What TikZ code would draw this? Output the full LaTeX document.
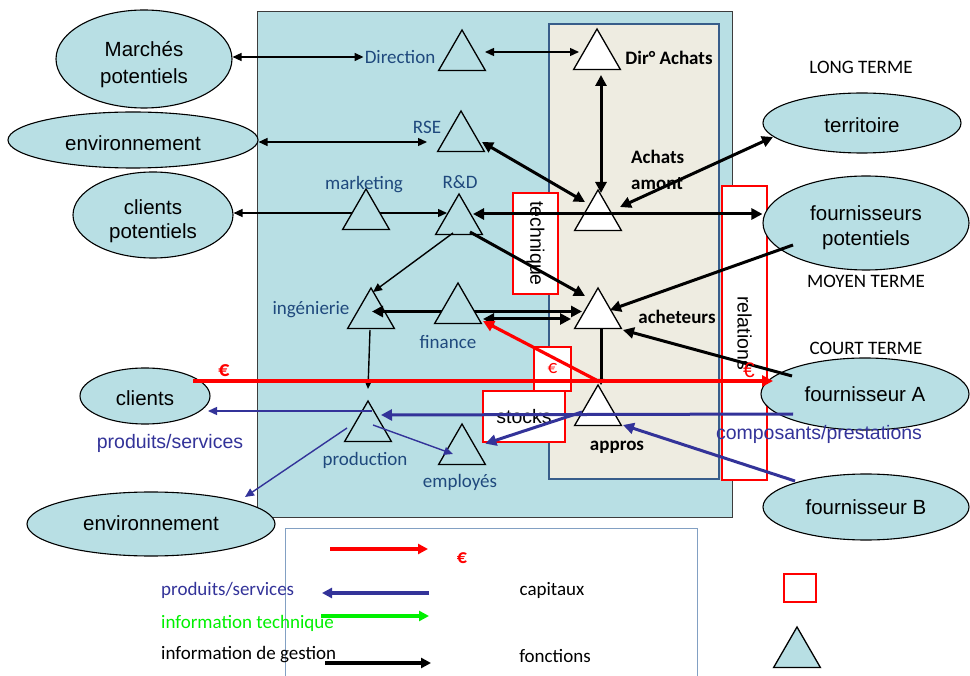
\documentclass[tikz,border=0pt]{standalone}
\usepackage{fontspec}
\setmainfont{Carlito}
\newfontfamily\arialf{Liberation Sans}
\usetikzlibrary{arrows.meta,shapes.geometric,calc}

\definecolor{cyanfill}{RGB}{184,223,228}
\definecolor{beige}{RGB}{238,236,225}
\definecolor{beigeedge}{RGB}{56,93,138}
\definecolor{fnblue}{RGB}{31,73,125}
\definecolor{flowblue}{RGB}{51,51,153}
\definecolor{flowgreen}{RGB}{0,240,0}
\definecolor{legendedge}{RGB}{130,160,195}
\definecolor{boxedge}{RGB}{60,60,60}

% text set a little below the middle of its oval, the oval keeping its size
\newcommand{\lowtext}[2]{\raisebox{-#1}[\height][\depth]{\begin{tabular}{@{}c@{}}#2\end{tabular}}}

\tikzset{
  every node/.style={inner sep=1pt},
  oval/.style={ellipse, draw=black, line width=1.1pt, fill=cyanfill, inner sep=0pt,
    font=\arialf\fontsize{20.5}{25}\selectfont, align=center},
  fn/.style={regular polygon, regular polygon sides=3, minimum size=54pt, inner sep=0pt,
    draw=black, line width=1.3pt, fill=cyanfill},
  fnw/.style={fn, fill=white},
  fnlabel/.style={text=fnblue, font=\fontsize{19}{23}\selectfont},
  buylabel/.style={text=black, font=\bfseries\fontsize{19}{26}\selectfont},
  termlabel/.style={font=\fontsize{19}{23}\selectfont},
  redbox/.style={draw=red, line width=1.3pt, fill=white, inner sep=0pt,
    font=\arialf\fontsize{19.5}{23}\selectfont},
  lighttip/.tip={Triangle[length=9pt,width=8pt]},
  heavytip/.tip={Triangle[length=11pt,width=11pt]},
  lightarrow/.style={line width=1.4pt, -lighttip},
  lightboth/.style={line width=1.4pt, lighttip-lighttip},
  heavyarrow/.style={line width=3pt, -heavytip},
  heavyboth/.style={line width=3pt, heavytip-heavytip},
  redarrow/.style={draw=red, line width=3.2pt, -heavytip},
  bluearrow/.style={draw=flowblue, line width=3pt, -heavytip},
  bluelight/.style={draw=flowblue, line width=1.4pt, -lighttip},
}

\begin{document}
\begin{tikzpicture}[x=1pt,y=-1pt]
\useasboundingbox (0,0) rectangle (970,676);
\fill[white] (0,0) rectangle (970,676);

% company and purchasing areas
\draw[draw=boxedge, line width=1pt, fill=cyanfill] (257,12) rectangle (732,517);
\draw[draw=beigeedge, line width=1.3pt, fill=beige] (549,24) rectangle (719,479);

% legend frame
\draw[draw=legendedge, line width=1pt] (285,676) -- (285,528) -- (697,528) -- (697,676);

% red boxes
\node[redbox, minimum width=101pt, minimum height=45pt, rotate=-90] (techbox) at (535.5,243.5) {technique};
\node[redbox, minimum width=294pt, minimum height=45pt, rotate=-90] (relbox) at (744.5,333) {relations};
\node[redbox, minimum width=37pt, minimum height=44pt, text=red, font=\fontsize{19}{23}\selectfont] (eurobox) at (552.5,369) {€};
\node[redbox, minimum width=82pt, minimum height=51pt] (stockbox) at (524,416.5) {stocks};

% external partners
\node[oval, minimum width=176pt, minimum height=98pt] (marches) at (144,59) {\lowtext{6pt}{Marchés\\[2pt]potentiels}};
\node[oval, minimum width=250pt, minimum height=56pt] (envtop) at (133,140) {\lowtext{6pt}{environnement}};
\node[oval, minimum width=160pt, minimum height=86pt] (clipot) at (153,215) {\lowtext{7pt}{clients\\[-1pt]potentiels}};
\node[oval, minimum width=198pt, minimum height=60pt] (territ) at (862,123) {\lowtext{5pt}{territoire}};
\node[oval, minimum width=206pt, minimum height=94pt] (fourpot) at (866,223) {\lowtext{5pt}{fournisseurs\\potentiels}};
\node[oval, minimum width=208pt, minimum height=72pt] (fournA) at (865,394) {fournisseur A};
\node[oval, minimum width=206pt, minimum height=66pt] (fournB) at (866,507) {fournisseur B};
\node[oval, minimum width=130pt, minimum height=56pt] (clients) at (145,396) {\lowtext{5pt}{clients}};
\node[oval, minimum width=248pt, minimum height=64pt] (envbot) at (151,524) {\lowtext{1pt}{environnement}};

% functions
\node[fn]  (fdir)  at (462,57)  {};
\node[fn]  (frse)  at (461,138) {};
\node[fn]  (frd)   at (459,221) {};
\node[fnw] (fdach) at (597,56)  {};
\node[fnw] (faa)   at (598,217) {};
\node[fn]  (fing)  at (371,315) {};
\node[fnw] (fach)  at (598,315) {};
\node[fn]  (fprod) at (368,428) {};
\node[fn]  (femp)  at (462,451) {};
\node[fnw] (fapp)  at (598,412) {};

% flows passing behind marketing and finance
\draw[lightboth] ($(clipot.east)+(0,-2)$) -- ($(frd)+(-12,-8)$);
\draw[heavyboth] ($(fing)+(1,-3.5)$) -- ($(fach)+(-16,-3.5)$);

\node[fn] (fmkt) at (366,216) {};
\node[fn] (ffin) at (458,310) {};

% labels
\node[fnlabel] (dirlab)  at (400,57)  {Direction};
\node[fnlabel] (rselab)  at (427,127) {RSE};
\node[fnlabel] (mktlab)  at (364,185) {marketing};
\node[fnlabel] (rdlab)   at (460,182) {R\&D};
\node[fnlabel] (inglab)  at (311,310) {ingénierie};
\node[fnlabel] (finlab)  at (448,342) {finance};
\node[fnlabel] (prodlab) at (365,460) {production};
\node[fnlabel] (emplab)  at (460,482) {employés};
\node[buylabel] (dachlab) at (669,58) {Dir° Achats};
\node[buylabel, align=left, anchor=west] (aalab) at (630,170) {Achats\\amont};
\node[buylabel] (achlab) at (677,317) {acheteurs};
\node[buylabel] (applab) at (617,447) {appros};
\node[termlabel] (longt)  at (861,67)  {LONG TERME};
\node[termlabel] (moyent) at (866,281) {MOYEN TERME};
\node[termlabel] (courtt) at (866,348) {COURT TERME};

% black information flows
\draw[lightboth] ($(marches.east)+(0,-2)$) -- (dirlab.west);
\draw[lightboth] ($(fdir)+(23,-5)$) -- ($(fdach)+(-18,-4)$);
\draw[lightboth] ($(envtop.east)+(0,2)$) -- ($(frse)+(-34,4)$);
\draw[heavyboth] ($(frd)+(14,-7)$) -- ($(fourpot.west)+(0,-9)$);
\draw[heavyboth] ($(frse)+(21,4)$) -- ($(faa)+(-13,-15)$);
\draw[heavyboth] ($(fdach)+(4,19)$) -- ($(faa)+(3,-24)$);
\draw[heavyboth] ($(faa)+(22,-10)$) -- ($(territ)+(-89,14)$);
\draw[lightarrow] ($(frd)+(-6,12)$) -- ($(fing)+(2,-23)$);
\draw[heavyarrow] ($(frd)+(11,11)$) -- ($(fach)+(-13,-19)$);
\draw[heavyboth] ($(ffin)+(25,9)$) -- ($(fach)+(-27,4)$);
\draw[heavyarrow] ($(fourpot)+(-73,22)$) -- ($(fach)+(12,-5)$);
\draw[heavyarrow] ($(fournA)+(-73,-18)$) -- ($(fach)+(25,15)$);
\draw[line width=1.4pt, -{Triangle[length=7pt,width=6pt]}] ($(fing)+(-1,15)$) -- ($(fprod)+(0,-39)$);
\draw[line width=3pt, -{Triangle[length=6pt,width=7pt]}] ($(fach)+(3,14)$) -- ($(fapp)+(3,-27)$);

% money flows
\draw[redarrow] ($(clients)+(48,-15)$) -- ($(fournA)+(-92,-13)$);
\draw[redarrow] ($(fapp)+(2,-30)$) -- ($(ffin)+(25,11)$);

% product flows
\draw[bluearrow] ($(fournA)+(-72,20)$) -- ($(fprod)+(13,-13)$);
\draw[bluelight] ($(fprod)+(4,-17)$) -- ($(clients)+(63,15)$);
\draw[bluelight] ($(fprod)+(-21,0)$) -- ($(envbot)+(94,-27)$);
\draw[bluelight] ($(fprod)+(5,-3)$) -- ($(femp)+(-9,3)$);
\draw[bluearrow] ($(fapp)+(-16,0)$) -- ($(stockbox.south west)+(3,1)$);
\draw[bluearrow] ($(fournB)+(-71,-26)$) -- ($(fapp)+(25,13)$);

% flow labels
\node[text=red, font=\bfseries\fontsize{22}{24}\selectfont] (euroclient) at (224,371) {€};
\node[text=red, font=\arialf\fontsize{21}{23}\selectfont] (eurorel) at (749,370) {€};
\node[text=flowblue, font=\arialf\fontsize{19.5}{23}\selectfont] (prodserv) at (170,443) {produits/services};
\node[text=flowblue, font=\arialf\fontsize{19.5}{23}\selectfont] (compo) at (819,434) {composants/prestations};

% legend
\coordinate (lgRa) at (330,549); \coordinate (lgRb) at (428,549);
\coordinate (lgBa) at (429,593); \coordinate (lgBb) at (322,593);
\coordinate (lgGa) at (321,616); \coordinate (lgGb) at (429,616);
\coordinate (lgKa) at (325,663); \coordinate (lgKb) at (431,663);
\draw[draw=red, line width=3.5pt, -{Triangle[length=10pt,width=10pt]}] (lgRa) -- (lgRb);
\draw[draw=flowblue, line width=3.5pt, -{Triangle[length=10pt,width=10pt]}] (lgBa) -- (lgBb);
\draw[draw=flowgreen, line width=3.5pt, -{Triangle[length=10pt,width=10pt]}] (lgGa) -- (lgGb);
\draw[draw=black, line width=3.5pt, -{Triangle[length=10pt,width=10pt]}] (lgKa) -- (lgKb);
\node[text=red, font=\bfseries\fontsize{20}{23}\selectfont] (lgeuro) at (462,558) {€};
\node[anchor=west, text=flowblue, font=\fontsize{19}{23}\selectfont] (lgprod) at (160,590) {produits/services};
\node[anchor=west, text=flowgreen, font=\fontsize{19}{23}\selectfont] (lgtech) at (160,623) {information technique};
\node[anchor=west, font=\fontsize{19}{23}\selectfont] (lggest) at (160,655) {information de gestion};
\node[font=\fontsize{19}{23}\selectfont] (lgcap) at (552,590) {capitaux};
\node[font=\fontsize{19}{23}\selectfont] (lgfct) at (555,656) {fonctions};
\node[draw=red, line width=1.3pt, minimum width=32pt, minimum height=28pt, inner sep=0pt] (lgbox) at (800,588) {};
\node[fn] (lgtri) at (797,654) {};
\end{tikzpicture}
\end{document}
